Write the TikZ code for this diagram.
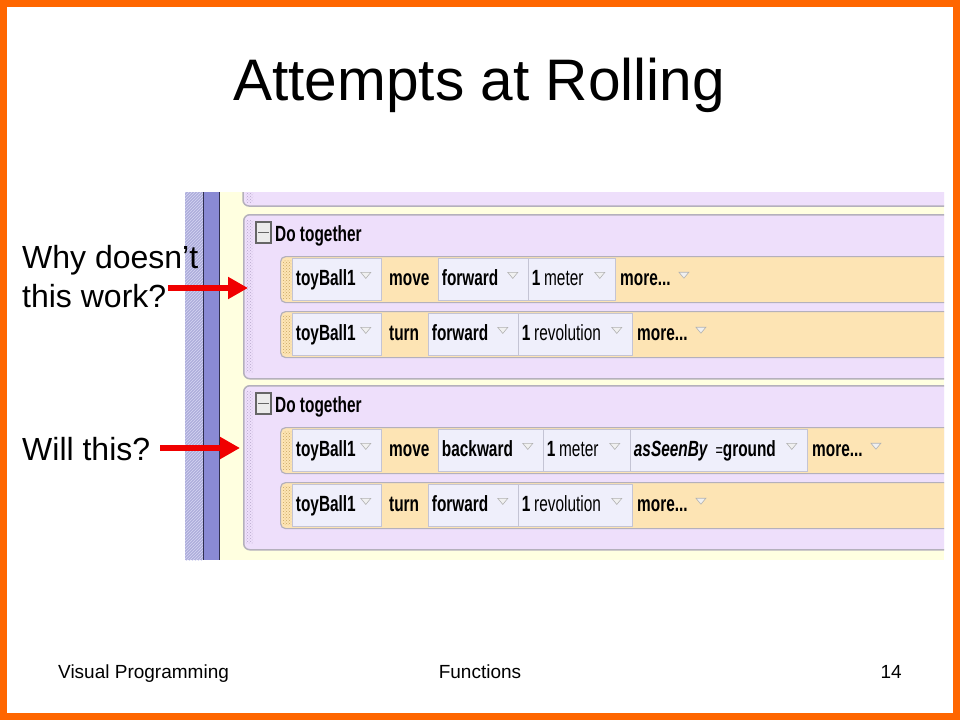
\documentclass[tikz,border=0pt]{standalone}
\usepackage{fontspec}
\setmainfont{Liberation Sans}
\newfontfamily\narrowf[FakeStretch=0.7]{Liberation Sans}
\usetikzlibrary{patterns,arrows.meta,calc}
\definecolor{orng}{HTML}{FF6600}
\definecolor{scrY}{HTML}{FFFFE0}
\definecolor{lav}{HTML}{EEDFFB}
\definecolor{rowc}{HTML}{FDE4B4}
\definecolor{cellc}{HTML}{EFEFFB}
\definecolor{cellb}{HTML}{C4C4D4}
\definecolor{blkb}{HTML}{B4B0BC}
\definecolor{hatchbg}{HTML}{AEAEDC}
\definecolor{hatchln}{HTML}{D6D6F2}
\definecolor{stripB}{HTML}{8A8AD4}
\definecolor{darkln}{HTML}{303050}
\definecolor{arrred}{HTML}{F00000}
\definecolor{gripL}{HTML}{B8A8CC}
\definecolor{gripR}{HTML}{C8A860}
\tikzset{
  block/.style={fill=lav, draw=blkb, line width=1.5pt, rounded corners=6pt, anchor=north west, inner sep=0pt},
  rowbox/.style={fill=rowc, draw=blkb, line width=1.2pt, rounded corners=5pt, anchor=north west, inner sep=0pt, minimum height=46pt},
  cell/.style={fill=cellc, draw=cellb, line width=0.8pt, anchor=north west, minimum height=42pt, inner ysep=0pt, inner xsep=3.5pt, text height=16pt, text depth=4pt, align=left, font=\narrowf\fontsize{22}{22}\selectfont},
  verb/.style={anchor=north west, minimum height=42pt, inner ysep=0pt, inner xsep=0pt, text height=16pt, text depth=4pt, font=\narrowf\bfseries\fontsize{22}{22}\selectfont},
  tri/.style={fill=white!94!black, draw=black!30, line width=0.6pt},
  minusbox/.style={draw=black!60, fill=black!8, line width=1.2pt, minimum width=15pt, minimum height=21pt, inner sep=0pt},
  hdr/.style={anchor=base west, inner sep=0pt, font=\narrowf\bfseries\fontsize{22}{22}\selectfont},
  side/.style={anchor=base west, inner sep=0pt, font=\fontsize{32}{38}\selectfont},
  foot/.style={inner sep=0pt, font=\fontsize{19}{22}\selectfont},
  redarrow/.style={draw=arrred, line width=6pt, -{Triangle[length=20pt,width=21pt]}},
  gripblk/.style={pattern=crosshatch dots, pattern color=gripL},
  griprow/.style={pattern=crosshatch dots, pattern color=gripR}
}
\newcommand\cellbox[5]{%
  \pgfmathsetmacro\tw{#4-7}%
  \node[cell, minimum width=#4pt, text width=\tw pt] (#1) at (#2,#3) {#5};
  \draw[tri] ($(#1.east)+(-21,-7)$) -- ++(10,0) -- ++(-5,6) -- cycle;
}
\newcommand\morebox[3]{%
  \node[verb] (#1) at (#2,#3) {more...};
  \draw[tri] ($(#1.east)+(8,-7)$) -- ++(10,0) -- ++(-5,6) -- cycle;
}
\begin{document}
\begin{tikzpicture}[x=1pt,y=-1pt]
\useasboundingbox (0,0) rectangle (960,720);
\fill[white] (0,0) rectangle (960,720);
\draw[orng, line width=7pt] (3.5,3.5) rectangle (956.5,716.5);

% title
\node[anchor=base, inner sep=0pt, font=\fontsize{58.6}{70}\selectfont] (title) at (479,100) {Attempts at Rolling};

% screenshot
\begin{scope}
\clip (185,192) rectangle (944,560);
\fill[scrY] (185,192) rectangle (944,560);
\fill[hatchbg] (185,192) rectangle (203,560);
\fill[pattern=north east lines, pattern color=hatchln] (185,192) rectangle (203,560);
\fill[stripB] (204,192) rectangle (219,560);
\draw[darkln, line width=1.2pt] (203.5,192) -- (203.5,560);
\draw[darkln, line width=1.2pt] (219.8,192) -- (219.8,560);

% top partial block
\draw[fill=lav, draw=blkb, line width=1.5pt, rounded corners=6pt] (243,170) rectangle (970,206);
\fill[gripblk] (246,192) rectangle (253,202);

% block 1
\node[block, minimum width=730pt, minimum height=164pt] (b1) at (243,214) {};
\fill[gripblk] (246,220) rectangle (253,372);
\node[minusbox] (m1) at (263.5,232.5) {};
\draw[black!60, line width=1.5pt] ([xshift=3pt]m1.west) -- ([xshift=-3pt]m1.east);
\node[hdr] (h1) at (275,241) {Do together};

\node[rowbox, minimum width=690pt] (r1) at (280,256) {};
\fill[griprow] (283,260) rectangle (291,298);
\cellbox{c11}{292}{258}{89}{\bfseries toyBall1}
\node[verb] (v11) at (389,258) {move};
\cellbox{c12}{438}{258}{90}{\bfseries forward}
\cellbox{c13}{528}{258}{87}{\bfseries 1\,\mdseries meter}
\morebox{mo1}{620}{258}

\node[rowbox, minimum width=690pt] (r2) at (280,311) {};
\fill[griprow] (283,315) rectangle (291,353);
\cellbox{c21}{292}{313}{89}{\bfseries toyBall1}
\node[verb] (v21) at (389,313) {turn};
\cellbox{c22}{428}{313}{90}{\bfseries forward}
\cellbox{c23}{518}{313}{114}{\bfseries 1\,\mdseries revolution}
\morebox{mo2}{637}{313}

% block 2
\node[block, minimum width=730pt, minimum height=164pt] (b2) at (243,385) {};
\fill[gripblk] (246,391) rectangle (253,543);
\node[minusbox] (m2) at (263.5,403.5) {};
\draw[black!60, line width=1.5pt] ([xshift=3pt]m2.west) -- ([xshift=-3pt]m2.east);
\node[hdr] (h2) at (275,412) {Do together};

\node[rowbox, minimum width=690pt] (r3) at (280,427) {};
\fill[griprow] (283,431) rectangle (291,469);
\cellbox{c31}{292}{429}{89}{\bfseries toyBall1}
\node[verb] (v31) at (389,429) {move};
\cellbox{c32}{438}{429}{105}{\bfseries backward}
\cellbox{c33}{543}{429}{87}{\bfseries 1\,\mdseries meter}
\cellbox{c34}{630}{429}{177}{\bfseries\itshape asSeenBy\/ \upshape\mdseries\fontsize{18}{18}\selectfont=\fontsize{22}{22}\selectfont\bfseries ground}
\morebox{mo3}{812}{429}

\node[rowbox, minimum width=690pt] (r4) at (280,482) {};
\fill[griprow] (283,486) rectangle (291,524);
\cellbox{c41}{292}{484}{89}{\bfseries toyBall1}
\node[verb] (v41) at (389,484) {turn};
\cellbox{c42}{428}{484}{90}{\bfseries forward}
\cellbox{c43}{518}{484}{114}{\bfseries 1\,\mdseries revolution}
\morebox{mo4}{637}{484}
\end{scope}

% side questions
\node[side] (q1a) at (22,268) {Why doesn’t};
\node[side] (q1b) at (22,307) {this work?};
\node[side] (q2) at (22,460) {Will this?};

% arrows
\coordinate (a1s) at (168,288);
\coordinate (a1e) at (248,288);
\coordinate (a2s) at (160,448);
\coordinate (a2e) at (240,448);
\draw[redarrow] (a1s) -- (a1e);
\draw[redarrow] (a2s) -- (a2e);

% footer
\node[foot, anchor=base west] (f1) at (58,678) {Visual Programming};
\node[foot, anchor=base] (f2) at (480,678) {Functions};
\node[foot, anchor=base east] (f3) at (902,678) {14};
\end{tikzpicture}
\end{document}
